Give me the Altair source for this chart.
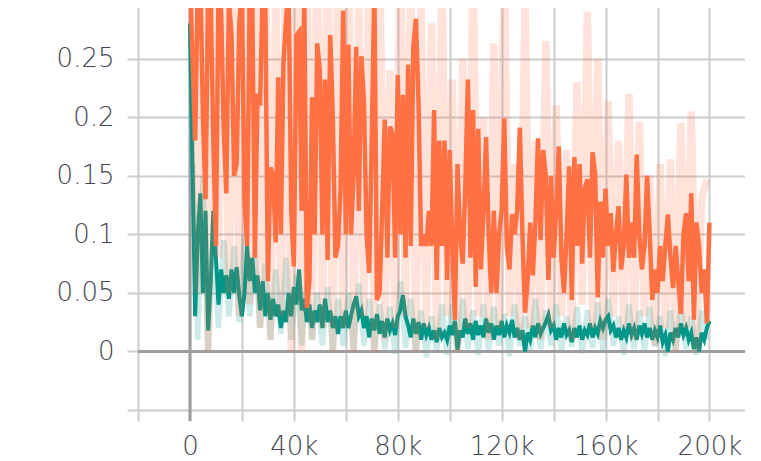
import altair as alt
import pandas as pd

# smoothed orange run, one point every 1k steps (0 .. 200k)
orange_smooth = [
    0.32, 0.25, 0.18, 0.31, 0.32, 0.20, 0.13, 0.31, 0.30, 0.18,
    0.09, 0.31, 0.29, 0.19, 0.135, 0.30, 0.27, 0.15, 0.16, 0.28,
    0.31, 0.13, 0.09, 0.31, 0.30, 0.08, 0.22, 0.21, 0.31, 0.30,
    0.06, 0.157, 0.15, 0.093, 0.234, 0.10, 0.246, 0.283, 0.31, 0.12,
    0.0725, 0.27, 0.273, 0.12, 0.31, 0.037, 0.06, 0.217, 0.10, 0.263,
    0.24, 0.10, 0.232, 0.078, 0.27, 0.20, 0.08, 0.09, 0.14, 0.291,
    0.10, 0.262, 0.10, 0.15, 0.26, 0.12, 0.252, 0.212, 0.10, 0.067,
    0.182, 0.31, 0.044, 0.05, 0.12, 0.198, 0.08, 0.192, 0.186, 0.08,
    0.236, 0.10, 0.219, 0.08, 0.245, 0.09, 0.26, 0.284, 0.212, 0.09,
    0.10, 0.09, 0.12, 0.09, 0.206, 0.061, 0.18, 0.09, 0.18, 0.061,
    0.172, 0.09, 0.027, 0.16, 0.10, 0.075, 0.14, 0.232, 0.08, 0.206,
    0.055, 0.19, 0.07, 0.12, 0.183, 0.10, 0.05, 0.12, 0.05, 0.10,
    0.12, 0.199, 0.09, 0.07, 0.117, 0.10, 0.121, 0.191, 0.10, 0.033,
    0.06, 0.11, 0.065, 0.11, 0.182, 0.095, 0.172, 0.15, 0.061, 0.15,
    0.08, 0.12, 0.175, 0.08, 0.05, 0.10, 0.158, 0.044, 0.166, 0.09,
    0.16, 0.075, 0.139, 0.147, 0.08, 0.17, 0.151, 0.046, 0.128, 0.08,
    0.139, 0.09, 0.118, 0.068, 0.10, 0.124, 0.07, 0.09, 0.151, 0.08,
    0.11, 0.08, 0.168, 0.10, 0.07, 0.09, 0.15, 0.10, 0.044, 0.07,
    0.05, 0.09, 0.06, 0.09, 0.117, 0.08, 0.054, 0.09, 0.06, 0.032,
    0.10, 0.118, 0.06, 0.135, 0.027, 0.11, 0.09, 0.05, 0.07, 0.024,
    0.11,
]

# smoothed teal run, one point every 1k steps (0 .. 200k)
teal_smooth = [
    0.28, 0.16, 0.03, 0.10, 0.135, 0.05, 0.12, 0.018, 0.06, 0.12,
    0.08, 0.04, 0.07, 0.05, 0.065, 0.045, 0.07, 0.05, 0.072, 0.047,
    0.03, 0.05, 0.09, 0.06, 0.08, 0.05, 0.065, 0.035, 0.06, 0.03,
    0.05, 0.027, 0.045, 0.03, 0.04, 0.02, 0.035, 0.025, 0.05, 0.03,
    0.055, 0.04, 0.07, 0.035, 0.045, 0.025, 0.04, 0.02, 0.035, 0.025,
    0.04, 0.02, 0.045, 0.025, 0.035, 0.02, 0.03, 0.015, 0.03, 0.02,
    0.035, 0.02, 0.03, 0.04, 0.047, 0.03, 0.035, 0.02, 0.03, 0.012,
    0.028, 0.018, 0.032, 0.015, 0.026, 0.012, 0.028, 0.018, 0.024, 0.014,
    0.03, 0.035, 0.048, 0.03, 0.022, 0.012, 0.028, 0.015, 0.025, 0.01,
    0.024, 0.014, 0.02, 0.01, 0.018, 0.008, 0.02, 0.012, 0.016, 0.01,
    0.022, 0.014, 0.026, 0.0015, 0.018, 0.012, 0.028, 0.015, 0.024, 0.01,
    0.026, 0.014, 0.022, 0.012, 0.028, 0.016, 0.024, 0.01, 0.022, 0.014,
    0.026, 0.012, 0.022, 0.016, 0.027, 0.012, 0.02, 0.01, 0.018, 0.0,
    0.016, 0.01, 0.022, 0.012, 0.024, 0.015, 0.02, 0.025, 0.031, 0.018,
    0.022, 0.01, 0.02, 0.012, 0.024, 0.014, 0.018, 0.008, 0.02, 0.012,
    0.022, 0.01, 0.018, 0.014, 0.024, 0.012, 0.02, 0.015, 0.026, 0.02,
    0.027, 0.03, 0.018, 0.022, 0.012, 0.02, 0.01, 0.018, 0.012, 0.024,
    0.014, 0.02, 0.01, 0.022, 0.015, 0.024, 0.012, 0.02, 0.01, 0.018,
    0.012, 0.022, 0.008, 0.014, 0.0, 0.016, 0.01, 0.02, 0.012, 0.024,
    0.014, 0.02, 0.01, 0.016, 0.002, 0.012, 0.0, 0.016, 0.01, 0.02,
    0.026,
]

# raw (unsmoothed) values, one point every 2k steps (1k .. 199k)
orange_raw = [
    0.35, 0.05, 0.35, 0.0, 0.35, 0.08, 0.35, 0.05, 0.35, 0.03,
    0.35, 0.04, 0.35, 0.02, 0.35, 0.01, 0.30, 0.03, 0.35, 0.0,
    0.35, 0.0, 0.33, 0.01, 0.35, 0.02, 0.35, 0.0, 0.35, 0.02,
    0.35, 0.0, 0.30, 0.03, 0.35, 0.0, 0.35, 0.01, 0.24, 0.02,
    0.35, 0.03, 0.32, 0.0, 0.30, 0.02, 0.28, 0.01, 0.33, 0.03,
    0.232, 0.0, 0.25, 0.02, 0.33, 0.03, 0.20, 0.01, 0.263, 0.02,
    0.33, 0.03, 0.16, 0.01, 0.30, 0.02, 0.18, 0.01, 0.265, 0.02,
    0.21, 0.03, 0.172, 0.01, 0.23, 0.04, 0.29, 0.02, 0.25, 0.01,
    0.214, 0.03, 0.18, 0.02, 0.22, 0.01, 0.196, 0.03, 0.15, 0.005,
    0.16, 0.02, 0.164, 0.0, 0.195, 0.02, 0.205, 0.0, 0.13, 0.147,
]

teal_raw = [
    0.16, 0.01, 0.15, 0.0, 0.10, 0.02, 0.095, 0.03, 0.09, 0.025,
    0.10, 0.03, 0.085, 0.02, 0.075, 0.01, 0.07, 0.015, 0.08, 0.01,
    0.065, 0.005, 0.06, 0.01, 0.05, 0.005, 0.055, 0.0, 0.045, 0.005,
    0.05, 0.0, 0.058, 0.005, 0.045, 0.0, 0.04, 0.002, 0.038, -0.002,
    0.06, 0.003, 0.045, 0.0, 0.035, -0.005, 0.03, 0.0, 0.04, -0.003,
    0.04, 0.0, 0.045, 0.002, 0.035, -0.003, 0.04, 0.0, 0.038, 0.005,
    0.032, -0.004, 0.04, 0.005, 0.03, 0.0, 0.045, 0.002, 0.035, 0.005,
    0.04, 0.0, 0.03, 0.004, 0.038, -0.002, 0.035, 0.003, 0.042, 0.0,
    0.045, 0.005, 0.03, -0.003, 0.04, 0.002, 0.035, 0.0, 0.038, 0.004,
    0.03, -0.004, 0.035, 0.0, 0.04, 0.002, 0.03, -0.003, 0.035, 0.01,
]

steps_orange = [1000 * i for i in range(len(orange_smooth))]
steps_teal = [1000 * i for i in range(len(teal_smooth))]
steps_raw_o = [1000 + 2000 * i for i in range(len(orange_raw))]
steps_raw_t = [1000 + 2000 * i for i in range(len(teal_raw))]

ORANGE = "#ff7043"
TEAL = "#009688"
W = 607
H = 410

df_os = pd.DataFrame({"step": steps_orange, "value": orange_smooth})
df_ts = pd.DataFrame({"step": steps_teal, "value": teal_smooth})
df_or = pd.DataFrame({"step": steps_raw_o, "value": orange_raw})
df_tr = pd.DataFrame({"step": steps_raw_t, "value": teal_raw})

x_ticks = [-20000, 0, 20000, 40000, 60000, 80000, 100000, 120000,
           140000, 160000, 180000, 200000]
y_ticks = [-0.05, 0, 0.05, 0.1, 0.15, 0.2, 0.25]

x_enc = alt.X(
    "step:Q",
    title=None,
    scale=alt.Scale(domain=[-20000, 213686], nice=False, zero=False),
    axis=alt.Axis(
        values=x_ticks,
        labelExpr="datum.value == 0 ? '0' : (datum.value > 0 && datum.value % 40000 == 0 ? format(datum.value / 1000, 'd') + 'k' : '')",
        labelPadding=12,
        labelFlush=False,
        labelOverlap=False,
        labelBound=False,
    ),
)
y_enc = alt.Y(
    "value:Q",
    title=None,
    scale=alt.Scale(domain=[-0.05, 0.3], nice=False, zero=False),
    axis=alt.Axis(
        values=y_ticks,
        labelExpr="datum.value >= 0 ? format(datum.value, '~g') : ''",
        labelPadding=13,
        labelFlush=False,
        labelOverlap=False,
        labelBound=False,
    ),
)

zero_v = alt.Chart(pd.DataFrame({"step": [0]})).mark_rule(
    color="#9e9e9e", strokeWidth=3, clip=False
).encode(x=alt.X("step:Q"), y=alt.value(0), y2=alt.value(H + 11))

zero_h = alt.Chart(pd.DataFrame({"value": [0.0]})).mark_rule(
    color="#9e9e9e", strokeWidth=3
).encode(y=alt.Y("value:Q"), x=alt.value(0), x2=alt.value(W))

teal_raw_line = alt.Chart(df_tr).mark_line(
    color=TEAL, strokeWidth=5.5, opacity=0.2, clip=True
).encode(x=x_enc, y=y_enc)
teal_line = alt.Chart(df_ts).mark_line(
    color=TEAL, strokeWidth=4, clip=True
).encode(x=x_enc, y=y_enc)
orange_raw_line = alt.Chart(df_or).mark_line(
    color=ORANGE, strokeWidth=7.5, opacity=0.2, clip=True
).encode(x=x_enc, y=y_enc)
orange_line = alt.Chart(df_os).mark_line(
    color=ORANGE, strokeWidth=4.5, clip=True
).encode(x=x_enc, y=y_enc)

chart = alt.layer(
    teal_raw_line, zero_v, zero_h, teal_line, orange_raw_line, orange_line
).properties(
    width=W,
    height=H,
    autosize=alt.AutoSizeParams(type="none"),
    padding={"left": 130, "top": -8, "right": 0, "bottom": 53},
).configure_view(
    stroke=None
).configure_axis(
    domain=False,
    grid=True,
    gridColor="#cccccc",
    gridWidth=2,
    ticks=True,
    tickColor="#cccccc",
    tickWidth=2,
    tickSize=11,
    labelFont="DejaVu Sans",
    labelFontWeight=200,
    labelFontSize=26,
    labelColor="#45454f",
)

chart.save("out.html", embed_options={"renderer": "svg", "actions": False})
